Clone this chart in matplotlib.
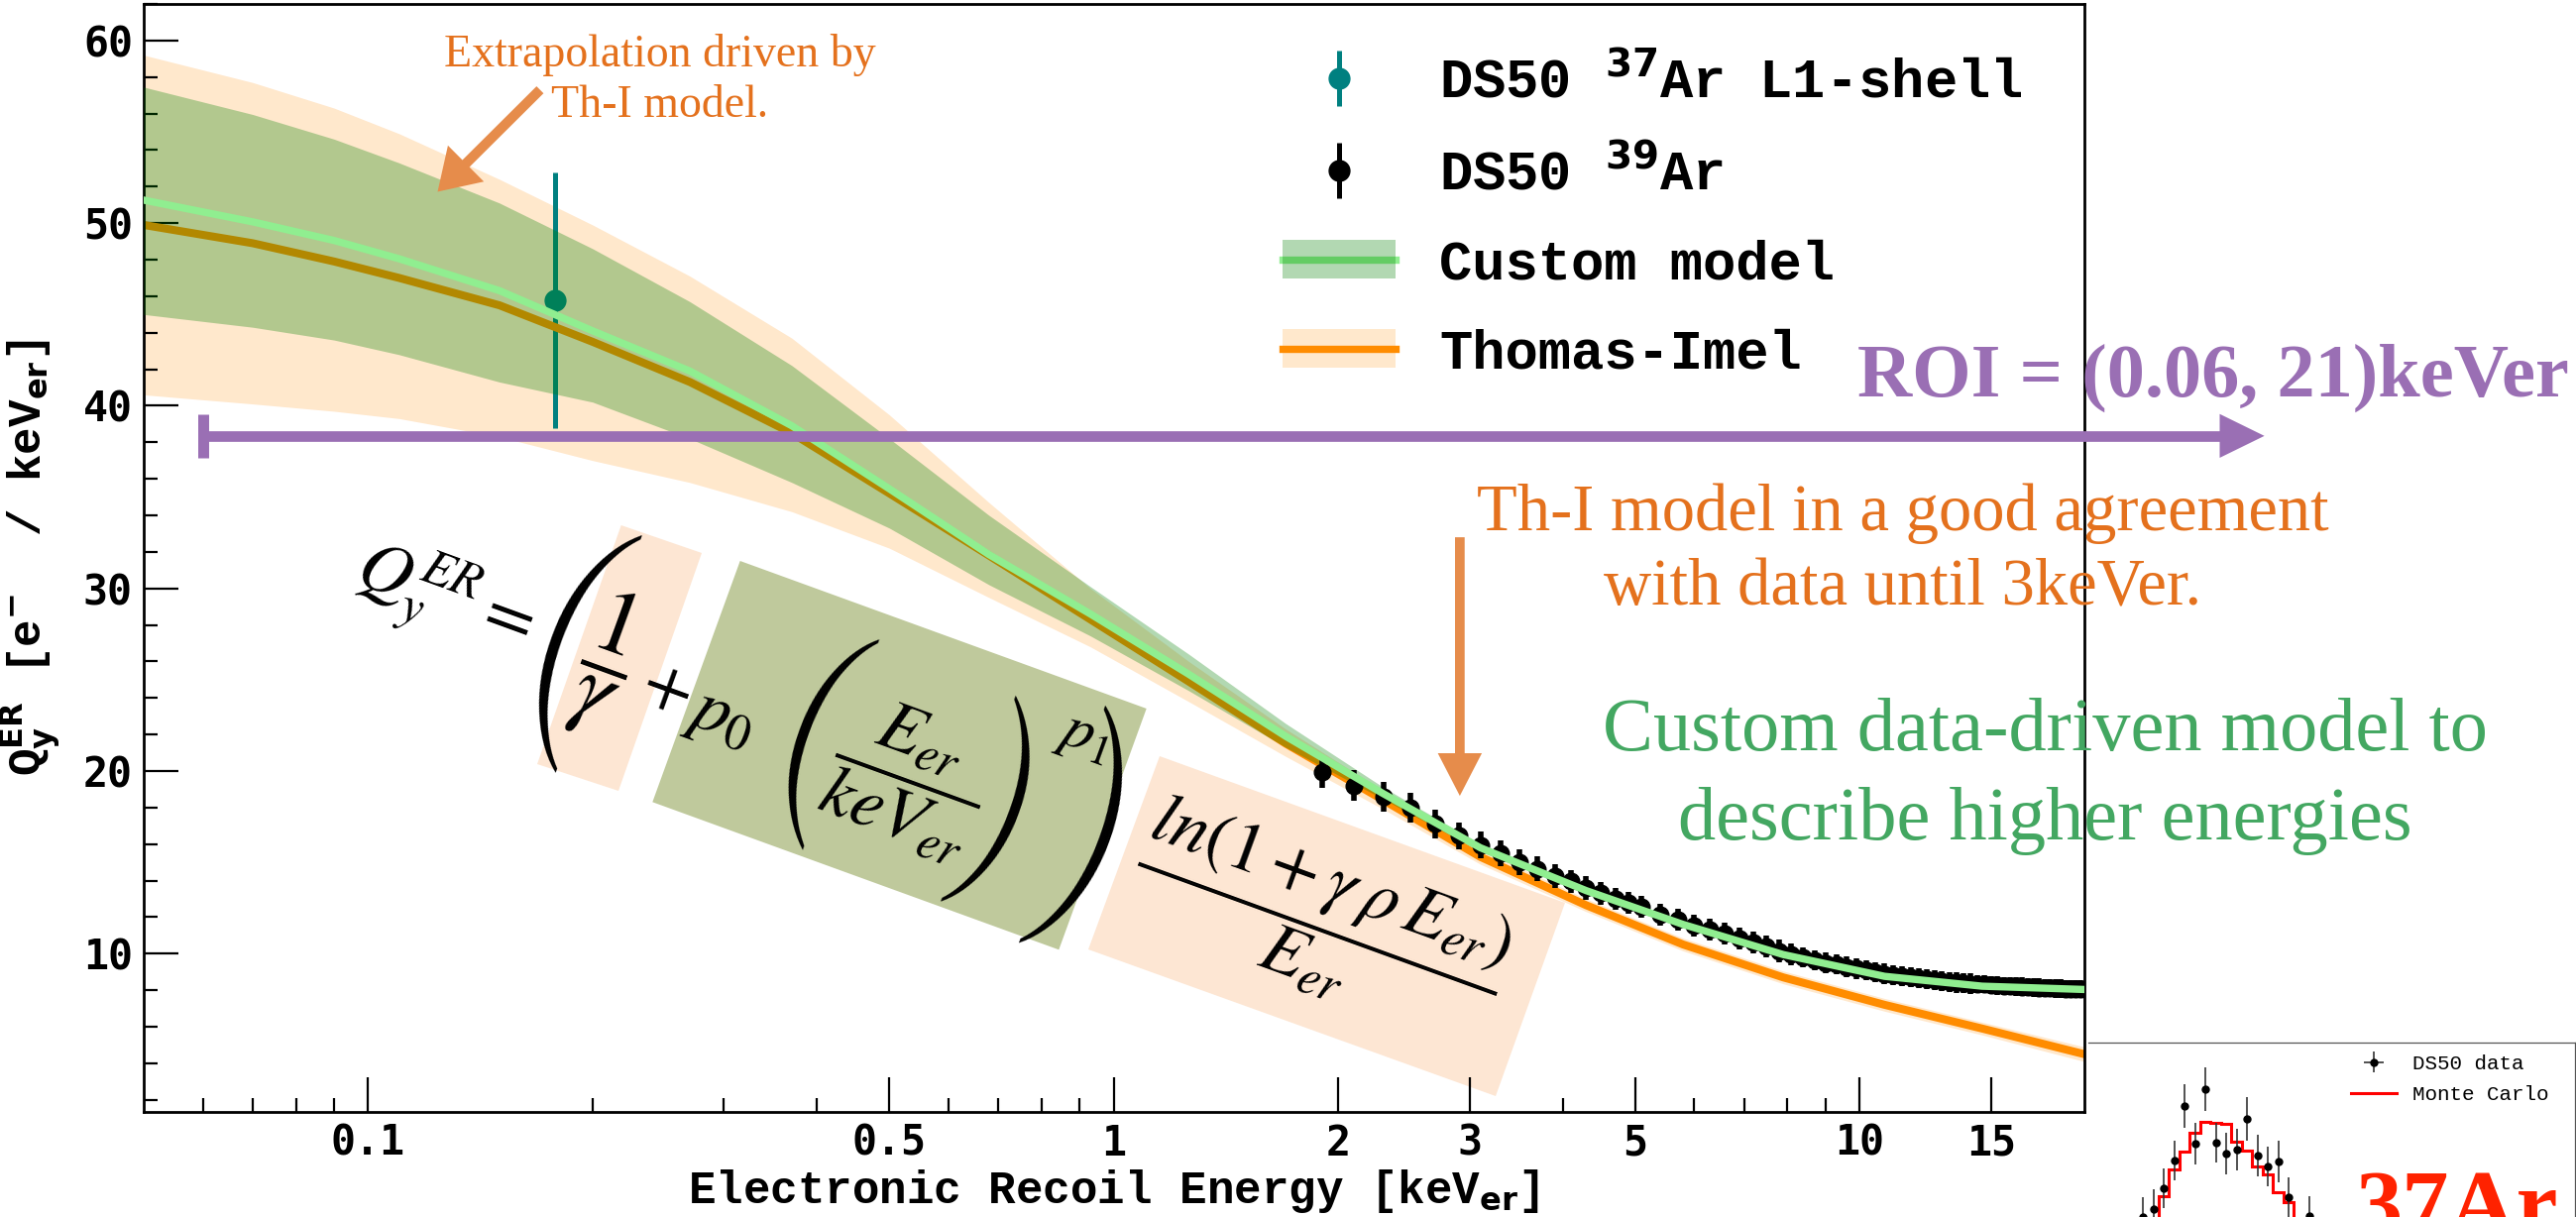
import matplotlib
matplotlib.use("Agg")
import numpy as np
import matplotlib.pyplot as plt
from matplotlib.patches import Polygon, Patch, FancyArrowPatch, ArrowStyle
from matplotlib.lines import Line2D
from matplotlib.ticker import FixedLocator, NullFormatter, MultipleLocator
from matplotlib.transforms import IdentityTransform

W, H = 2599, 1228
plt.rcParams['font.family'] = 'DejaVu Sans Mono'

# model curves (keVer, e-/keVer)
energy_nodes = [0.05, 0.07, 0.09, 0.11, 0.15, 0.2, 0.27, 0.37, 0.5, 0.68, 0.93,
                1.26, 1.7, 2.3, 3.1, 4.3, 5.8, 7.9, 10.8, 14.6, 20.0]
ti_line = [49.9, 48.9, 47.9, 47.0, 45.5, 43.5, 41.3, 38.5, 35.2, 31.8, 28.3,
           24.9, 21.5, 18.4, 15.3, 12.65, 10.5, 8.7, 7.2, 5.9, 4.5]
ti_high = [59.2, 57.7, 56.3, 54.9, 52.4, 49.9, 47.1, 43.7, 39.5, 34.7, 30.0,
           26.0, 22.3, 18.9, 15.7, 13.0, 10.85, 9.05, 7.55, 6.25, 4.9]
ti_low = [40.6, 40.1, 39.7, 39.3, 38.3, 37.0, 35.8, 34.2, 32.2, 29.5, 26.8,
          23.8, 20.8, 17.9, 14.9, 12.3, 10.15, 8.35, 6.85, 5.55, 4.1]
custom_line = [51.26, 50.07, 49.05, 48.05, 46.3, 44.1, 41.9, 38.9, 35.45, 31.85, 28.6,
               25.3, 21.9, 18.75, 15.8, 13.45, 11.6, 9.95, 8.76, 8.22, 8.04]
custom_high = [57.45, 55.95, 54.6, 53.3, 51.1, 48.6, 45.7, 42.2, 38.2, 34.0, 30.1,
               26.4, 22.6, 19.1, 16.0, 13.65, 11.8, 10.15, 8.95, 8.4, 8.2]
custom_low = [45.0, 44.3, 43.6, 42.8, 41.3, 40.2, 38.2, 35.8, 33.3, 30.2, 27.4,
              24.4, 21.3, 18.45, 15.6, 13.25, 11.4, 9.75, 8.57, 8.04, 7.88]

# DS50 data
ar37_energy = [0.178]
ar37_qy = [45.8]
ar37_err = [7.0]

ar39_energy = [1.9, 2.1, 2.3, 2.5, 2.7, 2.9, 3.1, 3.3, 3.5, 3.7, 3.9, 4.1, 4.3, 4.5,
               4.7, 4.9, 5.1, 5.4, 5.7, 6.0, 6.3, 6.6, 6.9, 7.2, 7.5, 7.8, 8.1, 8.4,
               8.7, 9.0, 9.3, 9.6, 9.9, 10.2, 10.5, 10.8, 11.1, 11.4, 11.7, 12.0,
               12.3, 12.6, 12.9, 13.2, 13.5, 13.8, 14.1, 14.4, 14.7, 15.0, 15.3,
               15.6, 15.9, 16.2, 16.5, 16.8, 17.1, 17.4, 17.7, 18.0, 18.3, 18.6,
               18.9, 19.2, 19.5, 19.8]
ar39_qy = [19.95, 19.2, 18.6, 18.0, 17.1, 16.45, 15.95, 15.5, 15.0, 14.65, 14.25,
           13.95, 13.6, 13.3, 13.0, 12.8, 12.55, 12.15, 11.85, 11.55, 11.3, 11.1,
           10.85, 10.6, 10.4, 10.15, 9.95, 9.8, 9.65, 9.5, 9.4, 9.28, 9.18, 9.08,
           9.0, 8.9, 8.82, 8.76, 8.7, 8.64, 8.6, 8.55, 8.5, 8.46, 8.42, 8.4, 8.36,
           8.33, 8.32, 8.28, 8.26, 8.24, 8.22, 8.2, 8.19, 8.17, 8.15, 8.14, 8.12,
           8.11, 8.1, 8.09, 8.07, 8.06, 8.05, 8.05]
ar39_err = [0.85, 0.85, 0.8, 0.8, 0.8, 0.75, 0.75, 0.7, 0.7, 0.7, 0.65, 0.65, 0.65,
            0.6, 0.6, 0.6, 0.6, 0.6, 0.6, 0.6, 0.6, 0.6, 0.6, 0.6, 0.6, 0.6, 0.6,
            0.55, 0.55, 0.55, 0.55, 0.55, 0.55, 0.55, 0.55, 0.55, 0.55, 0.55, 0.55,
            0.55, 0.55, 0.55, 0.55, 0.55, 0.55, 0.55, 0.55, 0.5, 0.5, 0.5, 0.5, 0.5,
            0.5, 0.5, 0.5, 0.5, 0.5, 0.5, 0.5, 0.5, 0.5, 0.5, 0.5, 0.5, 0.5, 0.5]

roi_start = 0.06
x_major = [0.1, 0.5, 1, 2, 3, 5, 10, 15]
x_major_labels = ['0.1', '0.5', '1', '2', '3', '5', '10', '15']
x_minor = [0.06, 0.07, 0.08, 0.09, 0.2, 0.3, 0.4, 0.6, 0.7, 0.8, 0.9, 4, 6, 7, 8, 9]
y_major = [10, 20, 30, 40, 50, 60]

# inset (37Ar spectrum, cut by the slide edge)
mc_edges = list(range(-2, 16))
mc_counts = [212, 220, 245, 272, 290, 309, 320, 319, 318, 300, 291, 275, 267, 249, 239, 222, 210]
ds_bin = [-1.5, -0.5, 0.5, 1.5, 2.5, 3.5, 4.5, 5.5, 6.5, 7.5, 8.5, 9.5, 10.5, 11.5, 12.5, 14.5]
ds_counts = [224, 232, 253, 281, 336, 298, 353, 299, 288, 292, 323, 286, 275, 280, 244, 225]
ds_err = [20, 20, 20, 20, 22, 21, 22, 20, 21, 21, 22, 21, 20, 21, 20, 20]

orange_txt = '#e4711d'
arrow_col = '#e68c4b'
green_txt = '#43a761'
purple = '#9a6fb4'


def fpos(px, py):
    return px / W, 1 - py / H


def disp(pts):
    return [(x, H - y) for x, y in pts]


fig = plt.figure(figsize=(W / 100, H / 100), dpi=100)
fig.patch.set_facecolor('white')

ax = fig.add_axes([145 / W, 1 - 1121.7 / H, (2102.7 - 145) / W, (1121.7 - 4) / H])
ax.set_facecolor('none')

ax.fill_between(energy_nodes, ti_low, ti_high, color='darkorange', alpha=0.2, lw=0, zorder=1)
ax.errorbar(ar37_energy, ar37_qy, yerr=ar37_err, fmt='o', color='teal', ms=15,
            elinewidth=3.6, capsize=0, zorder=1.5)
ax.plot(energy_nodes, ti_line, color='darkorange', lw=5.8, zorder=2)
ax.fill_between(energy_nodes, custom_low, custom_high, color='green', alpha=0.3, lw=0, zorder=3)
ax.errorbar(ar39_energy, ar39_qy, yerr=ar39_err, fmt='o', color='black', ms=12,
            elinewidth=4, capsize=0, zorder=3.5)
ax.plot(energy_nodes, custom_line, color='lightgreen', lw=5.3, zorder=4)

# ROI arrow
ax.plot([roi_start, 30.4], [38.35, 38.35], color=purple, lw=7.7, solid_capstyle='butt',
        clip_on=False, zorder=6)
ax.plot([roi_start, roi_start], [37.15, 39.55], color=purple, lw=7.9, solid_capstyle='butt',
        clip_on=False, zorder=6)
ax.add_patch(Polygon([(30.4, 37.15), (34.9, 38.35), (30.4, 39.55)], closed=True,
                     color=purple, lw=0, clip_on=False, zorder=6))

# annotation arrows
ax.add_patch(FancyArrowPatch((0.170, 57.3), (0.1239, 51.72),
                             arrowstyle=ArrowStyle.Simple(head_length=29, head_width=37, tail_width=7.2),
                             mutation_scale=1, color=arrow_col, lw=0, shrinkA=0, shrinkB=0,
                             zorder=7, clip_on=False))
ax.add_patch(FancyArrowPatch((2.91, 32.8), (2.91, 18.64),
                             arrowstyle=ArrowStyle.Simple(head_length=31, head_width=32, tail_width=7),
                             mutation_scale=1, color=arrow_col, lw=0, shrinkA=0, shrinkB=0,
                             zorder=7, clip_on=False))

# axes styling
ax.set_xscale('log')
ax.xaxis.set_major_locator(FixedLocator(x_major))
ax.set_xticklabels(x_major_labels)
ax.xaxis.set_minor_locator(FixedLocator(x_minor))
ax.xaxis.set_minor_formatter(NullFormatter())
ax.set_yticks(y_major)
ax.yaxis.set_minor_locator(MultipleLocator(2))
ax.tick_params(which='major', direction='in', length=25, width=1.6, labelsize=30, pad=8,
               top=False, right=False)
ax.tick_params(which='minor', direction='in', length=10, width=1.6, top=False, right=False)
for lab in ax.get_xticklabels() + ax.get_yticklabels():
    lab.set_fontweight('bold')
for s in ax.spines.values():
    s.set_linewidth(2)

ax.set_xlabel(r'Electronic Recoil Energy [keV$_{\mathbf{er}}$]', family='Liberation Mono',
              weight='bold', fontsize=33)
ax.xaxis.label.set_va('baseline')
ax.xaxis.set_label_coords(0.5, (1121.7 - 1214) / 1117.7)
ax.set_ylabel(r'Q$_{\mathbf{y}}^{\mathbf{ER}}$ [e$^{\mathbf{-}}$  / keV$_{\mathbf{er}}$]',
              family='Liberation Mono', weight='bold', fontsize=33)
ax.yaxis.set_label_coords(-0.042, 0.5)

# legend
h39 = ax.errorbar([np.nan], [np.nan], yerr=[1.0], fmt='o', color='black', ms=15,
                  elinewidth=3.6, capsize=0)
h37 = ax.errorbar([np.nan], [np.nan], yerr=[1.0], fmt='o', color='teal', ms=15,
                  elinewidth=3.6, capsize=0)
hc = (Line2D([], [], color='lightgreen', lw=5.3), Patch(facecolor='green', alpha=0.3, lw=0))
ht = (Line2D([], [], color='darkorange', lw=5.3), Patch(facecolor='darkorange', alpha=0.2, lw=0))
ax.legend([h37, h39, hc, ht],
          [r'DS50 $^{\mathbf{37}}$Ar L1-shell', r'DS50 $^{\mathbf{39}}$Ar', 'Custom model', 'Thomas-Imel'],
          loc='upper left', bbox_to_anchor=fpos(1294, 55), bbox_transform=fig.transFigure,
          frameon=False, borderpad=0, borderaxespad=0, handlelength=2.05, handletextpad=0.8,
          labelspacing=0.68, prop={'family': 'Liberation Mono', 'weight': 'bold', 'size': 40})

ax.set_xlim(0.05, 20)
ax.set_ylim(1.35, 62)

# rotated formula with coloured boxes
peach = '#fde6d3'
olive = '#bfc99c'
boxes = [([(626.7, 530), (708, 558), (624, 798), (542, 771)], peach),
         ([(746.7, 566), (1156.7, 715), (1068.3, 958.3), (658.3, 809.3)], olive),
         ([(1170, 763), (1579, 911), (1509, 1106), (1098, 958)], peach)]
for pts, col in boxes:
    fig.add_artist(Polygon(disp(pts), closed=True, facecolor=col, edgecolor='none',
                           transform=IdentityTransform(), zorder=-1))

# formula pieces laid along a baseline tilted by 20 degrees
ang = np.radians(20)
origin = (512, 630)
u_dir = (np.cos(ang), np.sin(ang))
n_dir = (-np.sin(ang), np.cos(ang))


def eq_pos(s, t):
    return fpos(origin[0] + s * u_dir[0] + t * n_dir[0],
                origin[1] + s * u_dir[1] + t * n_dir[1])


eq_kw = dict(rotation=-20, rotation_mode='anchor', ha='center', va='center',
             math_fontfamily='stix', color='black', fontweight='normal')
fig.text(*fpos(447, 606), r'$Q_y^{ER}=$', fontsize=52, **eq_kw)
fig.text(*eq_pos(106, 4), r'$\dfrac{1}{\gamma}$', fontsize=68, **eq_kw)
fig.text(*eq_pos(173, 5), r'$+$', fontsize=52, **eq_kw)
fig.text(*eq_pos(235, 14), r'$p_0$', fontsize=52, **eq_kw)
fig.text(*eq_pos(433, 8), r'$\dfrac{E_{er}}{keV_{er}}$', fontsize=52, **eq_kw)
fig.text(*eq_pos(586, -94), r'$p_1$', fontsize=44, **eq_kw)
fig.text(*fpos(1331, 931), r'$\dfrac{ln(1+\gamma\,\rho\,E_{er})}{E_{er}}$', fontsize=52, **eq_kw)

# tall delimiters from the STIX size-variant fonts, scaled to the picture's height
renderer = fig.canvas.get_renderer()
parens = [('(', 'STIXSizeFourSym', 255, 70, 1),
          ('(', 'STIXSizeThreeSym', 225, 331, 5),
          (')', 'STIXSizeThreeSym', 220, 532, 6),
          (')', 'STIXSizeFourSym', 255, 622, 1)]
for ch, fam, hpx, s, t in parens:
    p = fig.text(*eq_pos(s, t), ch, family=fam, fontsize=50, ha='center', va='center',
                 rotation_mode='anchor', color='black', fontweight='normal')
    hh = p.get_window_extent(renderer).height
    p.set_fontsize(50 * hpx / hh)
    p.set_rotation(-20)

# slide texts
serif = 'Liberation Serif'
fig.text(*fpos(666, 66.7), 'Extrapolation driven by', family=serif, weight='normal',
         fontsize=33, color=orange_txt, ha='center', va='baseline')
fig.text(*fpos(666, 118.3), 'Th-I model.', family=serif, weight='normal',
         fontsize=33, color=orange_txt, ha='center', va='baseline')
fig.text(*fpos(1920, 535), 'Th-I model in a good agreement', family=serif, weight='normal',
         fontsize=48, color=orange_txt, ha='center', va='baseline')
fig.text(*fpos(1920, 611), 'with data until 3keVer.', family=serif, weight='normal',
         fontsize=48, color=orange_txt, ha='center', va='baseline')
fig.text(*fpos(2063, 757), 'Custom data-driven model to', family=serif, weight='normal',
         fontsize=55, color=green_txt, ha='center', va='baseline')
fig.text(*fpos(2063, 846.7), 'describe higher energies', family=serif, weight='normal',
         fontsize=55, color=green_txt, ha='center', va='baseline')
fig.text(*fpos(1874, 400), 'ROI = (0.06, 21)keVer', family=serif, weight='bold',
         fontsize=55, color=purple, ha='left', va='baseline')

# inset in the bottom right corner
ins = fig.add_axes([2107 / W, 1 - 1452 / H, (2598 - 2107) / W, 400 / H])
ins.set_xlim(-6.74, 40.0)
ins.set_ylim(0, 400)
ins.set_xticks([])
ins.set_yticks([])
ins.spines['left'].set_visible(False)
ins.spines['bottom'].set_visible(False)
for side in ['top', 'right']:
    ins.spines[side].set_color('#555555')
    ins.spines[side].set_linewidth(0.9)
ins.stairs(mc_counts, mc_edges, color='red', lw=2.2)
ins.errorbar(ds_bin, ds_counts, yerr=ds_err, fmt='o', color='black', ms=5,
             ecolor='#333333', elinewidth=1.2, capsize=0)
hd = ins.errorbar([np.nan], [np.nan], xerr=[1.0], yerr=[1.0], fmt='o', color='black', ms=5,
                  ecolor='#333333', elinewidth=1.2, capsize=0)
ins.legend([hd, Line2D([], [], color='red', lw=2.2)], ['DS50 data', 'Monte Carlo'],
           loc='upper left', bbox_to_anchor=fpos(2372, 1064), bbox_transform=fig.transFigure,
           frameon=False, borderpad=0, borderaxespad=0, handlelength=2.2, labelspacing=0.6,
           prop={'family': 'Liberation Mono', 'weight': 'normal', 'size': 15})
fig.text(*fpos(2376, 1245), '37Ar', family=serif, weight='bold', fontsize=68,
         color='#ff2200', ha='left', va='baseline')

fig.savefig('out.png', dpi=100)
